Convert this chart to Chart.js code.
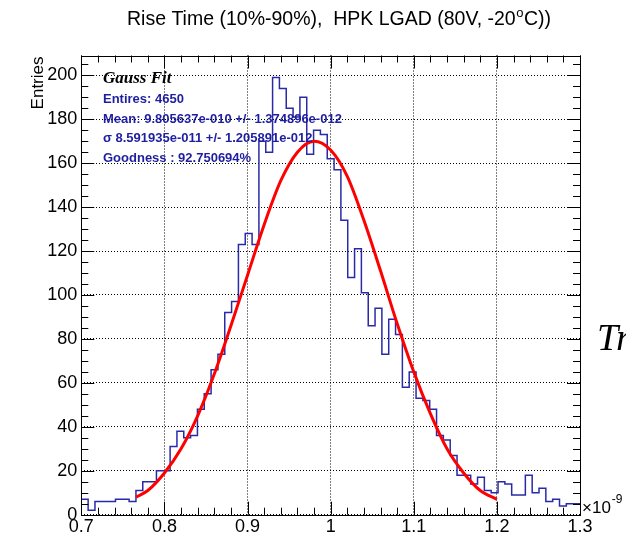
<!DOCTYPE html>
<html>
<head>
<meta charset="utf-8">
<script src="https://cdn.jsdelivr.net/npm/chart.js@4.4.1/dist/chart.umd.min.js"></script>
<style>
  html, body { margin: 0; padding: 0; background: #fff; }
  #wrap { width: 626px; height: 542px; }
</style>
</head>
<body>
<div id="wrap"><canvas id="riseTime" width="626" height="542"></canvas></div>
<script>
// rise time histogram, x in units of 1e-9 s
const binLow = 0.7;
const binHigh = 1.3;
const binCounts = [
  5, 7, 2, 6, 6, 6, 7, 7, 6, 11, 15, 15, 20, 20, 31, 38, 35, 36, 48, 55, 66, 73, 92, 97,
  123, 128, 123, 170, 165, 199, 194, 185, 181, 190, 164, 175, 173, 162, 157, 134, 108, 121, 101, 86, 94, 73, 89, 82, 58,
  65, 53, 52, 48, 36, 34, 27, 18, 18, 14, 17, 11, 10, 15, 14, 9, 9, 18, 10, 12, 6, 7, 4, 5,
];

// gauss fit curve
const fitX = [0.766, 0.78, 0.8, 0.82, 0.84, 0.86, 0.88, 0.9, 0.92, 0.94, 0.96, 0.98,
  1.0, 1.02, 1.04, 1.06, 1.08, 1.1, 1.12, 1.14, 1.16, 1.18, 1.2];
const fitY = [8, 11, 19, 30, 45, 64, 86, 109, 132, 152, 165, 170,
  166, 154, 134, 111, 87, 65, 46, 30, 19, 11, 7];

const xTickValues = [0.7, 0.8, 0.9, 1.0, 1.1, 1.2, 1.3];
const yTickValues = [0, 20, 40, 60, 80, 100, 120, 140, 160, 180, 200];
const yMax = 209;

const statsLines = [
  "Entires: 4650",
  "Mean: 9.805637e-010 +/- 1.374896e-012",
  "\u03c3 8.591935e-011 +/- 1.205891e-012",
  "Goodness : 92.750694%",
];

const binWidth = (binHigh - binLow) / binCounts.length;
const histPoints = binCounts.map((c, i) => ({ x: binLow + i * binWidth, y: c }));
histPoints.push({ x: binHigh, y: binCounts[binCounts.length - 1] });
const fitPoints = fitX.map((x, i) => ({ x: x, y: fitY[i] }));

const SANS = "'Liberation Sans', Arial, sans-serif";
const SERIF = "'Liberation Serif', 'Times New Roman', serif";

// ROOT style frame, inner ticks and the texts around the pad
const rootDecor = {
  id: "rootDecor",
  afterDraw(chart) {
    const { ctx, chartArea: a, scales } = chart;
    const xs = scales.x;
    const ys = scales.y;
    ctx.save();

    // ticks
    ctx.strokeStyle = "#000";
    ctx.lineWidth = 1;
    ctx.beginPath();
    for (let i = 0; i <= 30; i++) {
      const v = 0.7 + i * 0.02;
      const px = Math.round(xs.getPixelForValue(v)) + 0.5;
      const len = i % 5 === 0 ? 13 : 7;
      ctx.moveTo(px, a.bottom);
      ctx.lineTo(px, a.bottom - len);
      ctx.moveTo(px, a.top);
      ctx.lineTo(px, a.top + len);
    }
    for (let v = 0; v <= yMax; v += 5) {
      const py = Math.round(ys.getPixelForValue(v)) + 0.5;
      const len = v % 20 === 0 ? 13 : 7;
      ctx.moveTo(a.left, py);
      ctx.lineTo(a.left + len, py);
      ctx.moveTo(a.right, py);
      ctx.lineTo(a.right - len, py);
    }
    ctx.stroke();

    // frame
    ctx.strokeRect(Math.round(a.left) + 0.5, Math.round(a.top) + 0.5,
      Math.round(a.right - a.left), Math.round(a.bottom - a.top));

    // title with superscript o
    ctx.fillStyle = "#000";
    ctx.textBaseline = "alphabetic";
    ctx.textAlign = "left";
    ctx.font = "19.5px " + SANS;
    const t1 = "Rise Time (10%-90%),  HPK LGAD (80V, -20";
    let tx = 127;
    ctx.fillText(t1, tx, 25);
    tx += ctx.measureText(t1).width;
    ctx.font = "13px " + SANS;
    ctx.fillText("o", tx + 0.5, 17);
    tx += ctx.measureText("o").width + 1;
    ctx.font = "19.5px " + SANS;
    ctx.fillText("C))", tx, 25);

    // y axis title
    ctx.save();
    ctx.translate(43, a.top + 1);
    ctx.rotate(-Math.PI / 2);
    ctx.textAlign = "right";
    ctx.font = "17px " + SANS;
    ctx.fillText("Entries", 0, 0);
    ctx.restore();

    // x10^-9 exponent
    ctx.font = "17px " + SANS;
    ctx.fillText("\u00d710", 582, 513);
    const ew = ctx.measureText("\u00d710").width;
    ctx.font = "12px " + SANS;
    ctx.fillText("-9", 582 + ew + 1, 503);

    // cut off label at the right edge
    ctx.font = "italic 38px " + SERIF;
    ctx.fillText("Tr", 597, 350);

    // fit stats
    ctx.font = "bold italic 17px " + SERIF;
    ctx.fillText("Gauss Fit", 103, 83);
    ctx.fillStyle = "#1e1ea0";
    ctx.font = "bold 13px " + SANS;
    statsLines.forEach((line, i) => {
      ctx.fillText(line, 103, 103 + i * 19.6);
    });

    ctx.restore();
  },
};

const riseTimeChart = new Chart(document.getElementById("riseTime"), {
  type: "line",
  data: {
    datasets: [
      {
        label: "Gauss fit",
        data: fitPoints,
        borderColor: "#ff0000",
        borderWidth: 3,
        pointRadius: 0,
        cubicInterpolationMode: "monotone",
        fill: false,
        order: 0,
      },
      {
        label: "Rise time",
        data: histPoints,
        borderColor: "#2a2aa8",
        borderWidth: 1.5,
        pointRadius: 0,
        stepped: "after",
        fill: false,
        order: 1,
      },
    ],
  },
  options: {
    responsive: false,
    animation: false,
    events: [],
    layout: {
      padding: { top: 55.5, right: 46, left: 0, bottom: 0 },
    },
    plugins: {
      legend: { display: false },
      tooltip: { enabled: false },
      title: { display: false },
    },
    scales: {
      x: {
        type: "linear",
        min: 0.7,
        max: 1.3,
        afterBuildTicks: (s) => {
          s.ticks = xTickValues.map((v) => ({ value: v }));
        },
        afterFit: (s) => {
          s.height = 27.3;
        },
        grid: { color: "#000", lineWidth: 1, drawTicks: false },
        border: { display: false, dash: [1, 2] },
        ticks: {
          color: "#000",
          font: { family: SANS, size: 18 },
          padding: 2,
          maxRotation: 0,
          autoSkip: false,
          callback: (v) => String(+Number(v).toFixed(1)),
        },
      },
      y: {
        type: "linear",
        min: 0,
        max: yMax,
        afterBuildTicks: (s) => {
          s.ticks = yTickValues.map((v) => ({ value: v }));
        },
        afterFit: (s) => {
          s.width = 81.3;
        },
        grid: { color: "#000", lineWidth: 1, drawTicks: false },
        border: { display: false, dash: [1, 2] },
        ticks: {
          color: "#000",
          font: { family: SANS, size: 18 },
          padding: 4,
          autoSkip: false,
          callback: (v) => String(v),
        },
      },
    },
  },
  plugins: [rootDecor],
});
</script>
</body>
</html>
